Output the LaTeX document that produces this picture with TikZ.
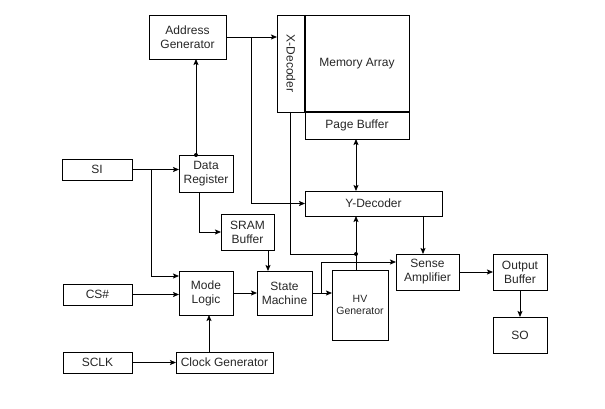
\documentclass[tikz,border=0pt]{standalone}
\usepackage{fontspec}
\setmainfont{Liberation Sans}
\usetikzlibrary{arrows.meta,calc}
\begin{document}
\begin{tikzpicture}[x=1pt,y=-1pt,
  box/.style={draw, line width=0.8pt, inner sep=0pt, outer sep=0pt, align=center,
    font=\fontsize{12}{14}\selectfont, text=black!85},
  arr/.style={line width=0.8pt, -{Stealth[length=6pt,width=5pt,inset=1.2pt]}},
  dbl/.style={line width=0.8pt, {Stealth[length=6pt,width=5pt,inset=1.2pt]}-{Stealth[length=6pt,width=5pt,inset=1.2pt]}},
  ln/.style={line width=0.8pt},
  dot/.style={circle, fill, inner sep=0pt, minimum size=4pt}]
\useasboundingbox (0,0) rectangle (605,409);
% boxes
\node[box, minimum width=77pt, minimum height=44pt] (addr) at (187.5,37) {Address\\Generator};
\node[box, minimum width=28pt, minimum height=97pt] (xdec) at (291,63.5) {};
\node[rotate=-90, font=\fontsize{12}{14}\selectfont, text=black!85] (xdect) at (xdec.center) {X-Decoder};
\node[box, minimum width=104pt, minimum height=97pt] (mem) at (357,63.5) {Memory Array};
\node[box, minimum width=104pt, minimum height=27pt] (page) at (357,125.5) {Page Buffer};
\node[box, minimum width=70pt, minimum height=21pt] (si) at (97,169.5) {SI};
\node[box, minimum width=54pt, minimum height=37pt] (dreg) at (206,173.5) {Data\\Register};
\node[box, minimum width=53pt, minimum height=36pt] (sram) at (247.5,232) {SRAM\\Buffer};
\node[box, minimum width=137pt, minimum height=25pt] (ydec) at (373.5,203.5) {Y-Decoder};
\node[box, minimum width=63pt, minimum height=36pt] (sense) at (427.5,272) {Sense\\Amplifier};
\node[box, minimum width=56pt, minimum height=70pt, font=\fontsize{10.5}{12.5}\selectfont] (hv) at (360,305) {HV\\Generator};
\node[box, minimum width=54pt, minimum height=36pt] (outb) at (520,272) {Output\\Buffer};
\node[box, minimum width=54pt, minimum height=36pt] (so) at (520,335) {SO};
\node[box, minimum width=54pt, minimum height=44pt] (mode) at (206,293) {Mode\\Logic};
\node[box, minimum width=55pt, minimum height=44pt] (sm) at (284.5,293) {State\\Machine};
\node[box, minimum width=69pt, minimum height=21pt] (cs) at (97.5,294.5) {CS\#};
\node[box, minimum width=69pt, minimum height=21pt] (sclk) at (97.5,362.5) {SCLK};
\node[box, minimum width=97pt, minimum height=21pt] (clk) at (224.5,362.5) {Clock Generator};
% thick border of memory array
\draw[line width=1.8pt] (mem.north west) -- (mem.south west) -- (mem.south east);
% helper coordinates
\coordinate (j1) at (251,37);
\coordinate (dtop) at (196,155);
\coordinate (j2) at (151,169.5);
\coordinate (m1) at (0,276);
\coordinate (s1) at (268,0);
\coordinate (c1) at (209,0);
\coordinate (j3) at (321.7,293);
\coordinate (m2) at (0,262);
\coordinate (x1) at (290,0);
\coordinate (hvd) at (356,254);
\coordinate (y1) at (423,0);
% connectors
\draw[arr] (addr.east) -- (addr.east -| xdec.west);
\draw[arr] (j1) |- (ydec.west);
\draw[arr] (dtop) -- (dtop |- addr.south);
\node[dot] (d1) at (dtop) {};
\draw[arr] (si.east) -- (si.east -| dreg.west);
\draw[arr] (j2) |- (mode.west |- m1);
\draw[arr] ([xshift=-7pt]dreg.south) |- (sram.west);
\draw[arr] (sram.south -| s1) -- (sm.north -| s1);
\draw[arr] (mode.east) -- (sm.west);
\draw[arr] (cs.east) -- (cs.east -| mode.west);
\draw[arr] (sclk.east) -- (clk.west);
\draw[arr] (clk.north -| c1) -- (mode.south -| c1);
\draw[arr] (sm.east) -- (sm.east -| hv.west);
\draw[arr] (j3) |- (sense.west |- m2);
\draw[ln] (xdec.south -| x1) |- (hvd);
\draw[arr] (hv.north -| hvd) -- (ydec.south -| hvd);
\node[dot] (d2) at (hvd) {};
\draw[dbl] (page.south -| hvd) -- (ydec.north -| hvd);
\draw[arr] (ydec.south -| y1) -- (sense.north -| y1);
\draw[arr] (sense.east) -- (sense.east -| outb.west);
\draw[arr] (outb.south) -- (so.north);
\end{tikzpicture}
\end{document}
